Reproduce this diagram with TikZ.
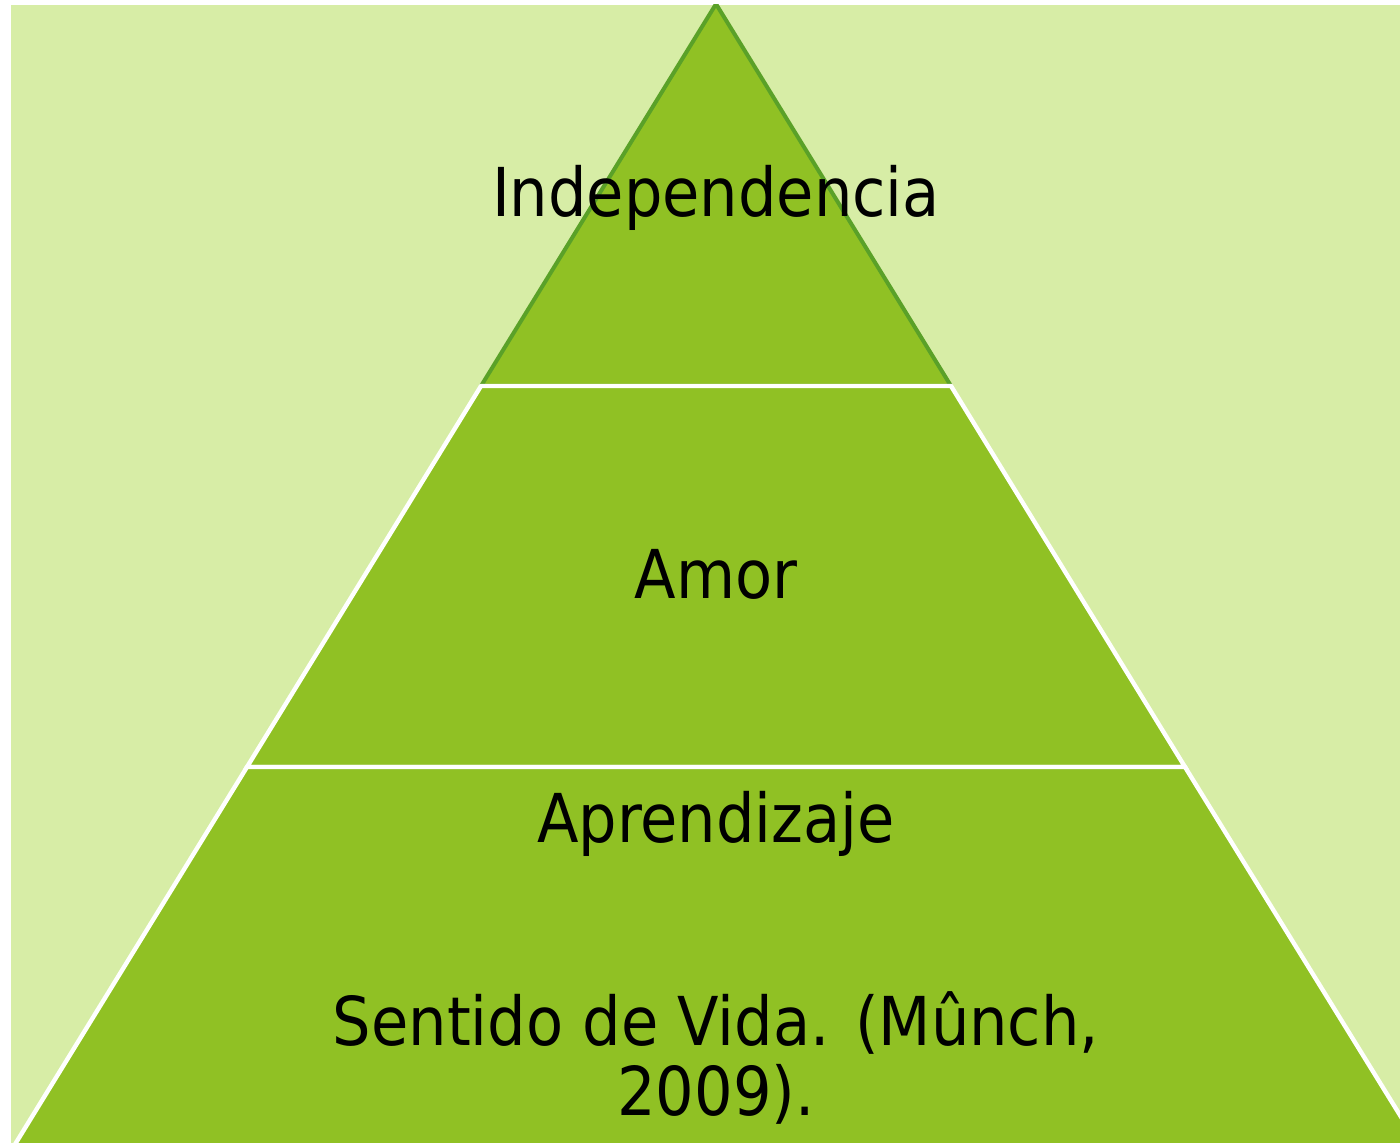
\documentclass[tikz,border=0pt]{standalone}
\usepackage{fontspec}
\setmainfont{DejaVu Sans Condensed}
\definecolor{fondo}{HTML}{D7EDA6}
\definecolor{capa}{HTML}{90C124}
\definecolor{borde}{HTML}{5AA128}
\tikzset{etiqueta/.style={anchor=base,inner sep=0pt,align=center,font=\fontsize{33.7}{35}\selectfont}}
\begin{document}
\begin{tikzpicture}[x=0.5pt,y=-0.5pt]
    \useasboundingbox (0,0) rectangle (1400,1143);
    \fill[fondo] (11,5) rectangle (1400,1143);
    \begin{scope}
    \clip (11,5) rectangle (1400,1143);
    \coordinate (cima) at (716,4);
    \filldraw[fill=capa,draw=borde,line width=2pt,line join=round] (cima) -- (481,386) -- (951,386) -- cycle;
    \filldraw[fill=capa,draw=white,line width=2.2pt] (481,386) -- (247,767) -- (1185,767) -- (951,386) -- cycle;
    \filldraw[fill=capa,draw=white,line width=2.2pt] (247,767) -- (14,1146) -- (1419,1146) -- (1185,767) -- cycle;
    \end{scope}
    \node[etiqueta] (independencia) at (716,217) {Independencia};
    \node[etiqueta] (amor) at (716,598) {Amor};
    \node[etiqueta] (aprendizaje) at (716,842) {Aprendizaje};
    \node[etiqueta] (sentido) at (716,1115) {Sentido de Vida. (Mûnch,\\2009).};
\end{tikzpicture}
\end{document}
